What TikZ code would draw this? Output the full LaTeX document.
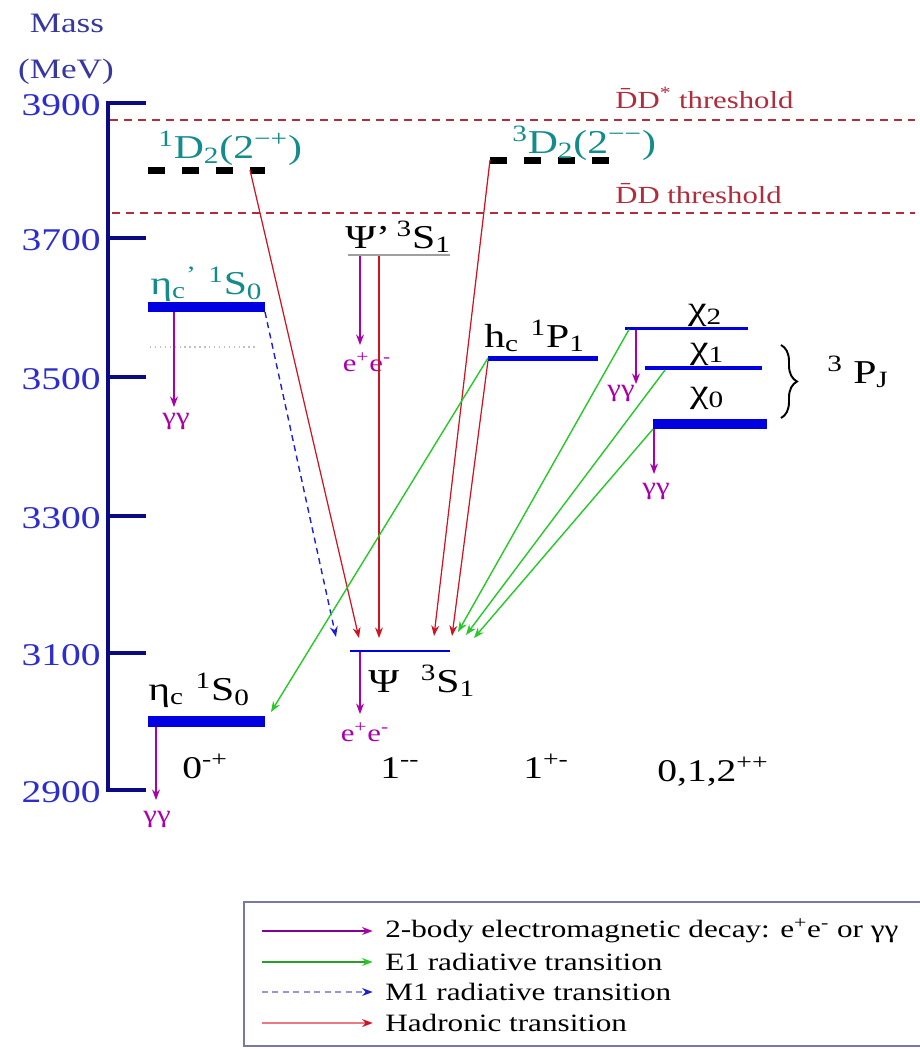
\documentclass[tikz,border=0pt]{standalone}
\usepackage{fontspec}
\setmainfont{Liberation Serif}[FakeStretch=1.25]
\usepackage{tikz}
\usetikzlibrary{arrows.meta, decorations.pathreplacing}
\definecolor{AxisNavy}{RGB}{10,10,130}
\definecolor{TickBlue}{RGB}{45,45,205}
\definecolor{MassBlue}{RGB}{55,55,160}
\definecolor{LevelBlue}{RGB}{0,0,225}
\definecolor{StateTeal}{RGB}{20,140,140}
\definecolor{ThreshRed}{RGB}{175,45,60}
\definecolor{HadRed}{RGB}{205,20,35}
\definecolor{HadPink}{RGB}{235,120,130}
\definecolor{EmMagenta}{RGB}{170,0,170}
\definecolor{EmPurple}{RGB}{130,0,150}
\definecolor{EOneGreen}{RGB}{40,200,40}
\definecolor{EOneDark}{RGB}{40,160,40}
\definecolor{MOneBlue}{RGB}{30,30,210}
\definecolor{MOneGrey}{RGB}{150,150,210}
\tikzset{
  axisline/.style={AxisNavy, line width=2.3pt},
  ticklab/.style={anchor=east, text=TickBlue, inner sep=0pt, font=\fontsize{18}{20}\selectfont},
  masslab/.style={text=MassBlue, inner sep=0pt, font=\fontsize{16}{18}\selectfont},
  bar/.style={fill=LevelBlue, draw=none, inner sep=0pt, outer sep=0pt},
  dlevel/.style={inner sep=0pt, outer sep=0pt, minimum height=0.14cm},
  dashlvl/.style={black, line width=0.14cm, dash pattern=on 0.34cm off 0.34cm},
  thresh/.style={ThreshRed, line width=0.7pt, dash pattern=on 0.16cm off 0.12cm},
  threshlab/.style={anchor=base west, text=ThreshRed, inner sep=0pt, font=\fontsize{14}{16}\selectfont},
  statelab/.style={anchor=base west, inner sep=0pt, font=\fontsize{19}{21}\selectfont},
  jpclab/.style={anchor=base west, inner sep=0pt, font=\fontsize{18}{20}\selectfont},
  decaylab/.style={text=EmMagenta, inner sep=0pt, font=\fontsize{14}{16}\selectfont},
  legtxt/.style={anchor=west, inner sep=0pt, font=\fontsize{14.2}{16}\selectfont},
  emarr/.style={-{Stealth[length=6pt,width=4.5pt]}, EmMagenta, line width=0.7pt},
  eonearr/.style={-{Stealth[length=6pt,width=4.5pt]}, EOneGreen, line width=0.8pt},
  monearr/.style={-{Stealth[length=6pt,width=4.5pt]}, MOneBlue, line width=0.8pt, dash pattern=on 0.12cm off 0.09cm},
  hadarr/.style={-{Stealth[length=6pt,width=4.5pt]}, HadRed, line width=0.7pt},
  legarr/.style={line width=0.8pt, shorten >=7pt},
}

\begin{document}
\begin{tikzpicture}[x=0.02cm, y=-0.02cm]
  \useasboundingbox (0,0) rectangle (920,1049);
  \clip (0,0) rectangle (920,1049);

  \node[masslab] (mass) at (67,23) {Mass};
  \node[masslab] (mev) at (66,72) {(MeV)};
  \draw[axisline] (146,103) -- (108,103) -- (108,790) -- (146,790);
  \foreach \y in {238,377,516,653}
    \draw[axisline] (108,\y) -- (146,\y);
  \foreach \m/\y in {3900/103,3700/238,3500/377,3300/516,3100/653,2900/790}
    \node[ticklab] (tick\m) at (101,\y+2) {\m};

  \draw[thresh] (110,120) -- (915,120);
  \draw[thresh] (112,213) -- (915,213);
  \node[threshlab] (thDDs) at (615,108) {\={D}D\textsuperscript{*} threshold};
  \node[threshlab] (thDD) at (615,203) {\={D}D threshold};

  \node[dlevel, minimum width=2.34cm] (dsing) at (206.5,170) {};
  \node[dlevel, minimum width=2.44cm] (dtrip) at (551,160) {};
  \draw[dashlvl] (dsing.west) -- (dsing.east);
  \draw[dashlvl] (dtrip.west) -- (dtrip.east);
  \node[bar, minimum width=2.34cm, minimum height=0.2cm] (etacp) at (206.5,307) {};
  \node[bar, fill=gray!75, minimum width=2.04cm, minimum height=0.035cm] (psip) at (399,255) {};
  \node[bar, minimum width=2.2cm, minimum height=0.1cm] (hc) at (543,358) {};
  \node[bar, minimum width=2.46cm, minimum height=0.06cm] (chi2) at (686.5,328) {};
  \node[bar, minimum width=2.34cm, minimum height=0.08cm] (chi1) at (703.5,368) {};
  \node[bar, minimum width=2.28cm, minimum height=0.2cm] (chi0) at (710,424) {};
  \node[bar, minimum width=2.0cm, minimum height=0.04cm] (jpsi) at (400,651) {};
  \node[bar, minimum width=2.34cm, minimum height=0.22cm] (etac) at (206.5,721) {};
  \draw[gray!50, dotted, thick] (150,347) -- (257,347);

  \node[statelab, text=StateTeal] (dsinglab) at (158,158) {\textsuperscript{1}D\textsubscript{2}(2\textsuperscript{−+})};
  \node[statelab, text=StateTeal] (dtriplab) at (512,153) {\textsuperscript{3}D\textsubscript{2}(2\textsuperscript{−−})};
  \node[statelab, text=StateTeal] (etacplab) at (150,294) {η\textsubscript{c}\textsuperscript{’}\hspace{0.35em}\textsuperscript{1}S\textsubscript{0}};
  \node[statelab] (psiplab) at (345,248) {Ψ’\hspace{0.2em}\textsuperscript{3}S\textsubscript{1}};
  \node[statelab] (hclab) at (484,347) {h\textsubscript{c}\hspace{0.35em}\textsuperscript{1}P\textsubscript{1}};
  \node[statelab, anchor=base] (chi2lab) at (705,319) {χ\textsubscript{2}};
  \node[statelab, anchor=base] (chi1lab) at (707,358) {χ\textsubscript{1}};
  \node[statelab, anchor=base] (chi0lab) at (707,402) {χ\textsubscript{0}};
  \node[statelab] (pjlab) at (827,383) {\textsuperscript{3} P\textsubscript{J}};
  \draw[decorate, decoration={brace, amplitude=0.32cm}, line width=1.1pt] (781,345) -- (781,418);
  \node[statelab] (jpsilab) at (368,692) {Ψ\hspace{0.65em}\textsuperscript{3}S\textsubscript{1}};
  \node[statelab] (etaclab) at (148,700) {η\textsubscript{c}\hspace{0.35em}\textsuperscript{1}S\textsubscript{0}};

  \node[jpclab] (jpc0) at (182,778) {0\textsuperscript{-+}};
  \node[jpclab] (jpc1) at (380,778) {1\textsuperscript{{-}{-}}};
  \node[jpclab] (jpc2) at (523,778) {1\textsuperscript{+-}};
  \node[jpclab] (jpc3) at (657,781) {0,1,2\textsuperscript{++}};

  \coordinate (etacpgg) at (174,407);
  \coordinate (psipee) at (360,345);
  \coordinate (chi2gg) at (636,384);
  \coordinate (chi0gg) at (654,474);
  \coordinate (jpsiee) at (360,714);
  \coordinate (etacgg) at (156,800);
  \draw[emarr] (etacpgg |- etacp.south) -- (etacpgg);
  \draw[emarr] (psipee |- psip.south) -- (psipee);
  \draw[emarr] (chi2gg |- chi2.south) -- (chi2gg);
  \draw[emarr] (chi0gg |- chi0.south) -- (chi0gg);
  \draw[emarr] (jpsiee |- jpsi.south) -- (jpsiee);
  \draw[emarr] (etacgg |- etac.south) -- (etacgg);
  \node[decaylab] (etacpgglab) at (176,421) {γγ};
  \node[decaylab] (psipeelab) at (367,362) {e\textsuperscript{+}e\textsuperscript{-}};
  \node[decaylab] (chi2gglab) at (621,393) {γγ};
  \node[decaylab] (chi0gglab) at (656,491) {γγ};
  \node[decaylab] (jpsieelab) at (365,732) {e\textsuperscript{+}e\textsuperscript{-}};
  \node[decaylab] (etacgglab) at (157,819) {γγ};

  \coordinate (mOneEnd) at (336,637);
  \coordinate (hadA) at (359,638);
  \coordinate (hadB) at (379,638);
  \coordinate (hadC) at (434,636);
  \coordinate (hadD) at (452,636);
  \coordinate (eOneA) at (458,632);
  \coordinate (eOneB) at (466,635);
  \coordinate (eOneC) at (474,638);
  \coordinate (eOneEtac) at (271,712);
  \draw[monearr] (etacp.south east) -- (mOneEnd);
  \draw[hadarr] ([xshift=-0.3cm]dsing.east) -- (hadA);
  \draw[hadarr] (hadB |- psip.south) -- (hadB);
  \draw[hadarr] (dtrip.west) -- (hadC);
  \draw[hadarr] (hc.south west) -- (hadD);
  \draw[eonearr] (hc.west) -- (eOneEtac);
  \draw[eonearr] ([xshift=0.08cm]chi2.south west) -- (eOneA);
  \draw[eonearr] ([xshift=0.4cm]chi1.south west) -- (eOneB);
  \draw[eonearr] (chi0.south west) -- (eOneC);

  \draw[MOneGrey!80!black, line width=0.6pt] (244,902) rectangle (930,1046);
  \node[legtxt] (legEm) at (385,931) {2-body electromagnetic decay: e\textsuperscript{+}e\textsuperscript{-} or γγ};
  \node[legtxt] (legEOne) at (385,962) {E1 radiative transition};
  \node[legtxt] (legMOne) at (385,992) {M1 radiative transition};
  \node[legtxt] (legHad) at (385,1023) {Hadronic transition};
  \coordinate (legEmS) at (262,931);
  \coordinate (legEOneS) at (262,962);
  \coordinate (legMOneS) at (262,992);
  \coordinate (legHadS) at (262,1023);
  \draw[legarr, -{Stealth[length=6pt,width=4.5pt,color=EmMagenta]}, EmPurple] (legEmS) -- (legEm.west);
  \draw[legarr, -{Stealth[length=6pt,width=4.5pt,color=EOneGreen]}, EOneDark] (legEOneS) -- (legEOne.west);
  \draw[legarr, -{Stealth[length=6pt,width=4.5pt,color=MOneBlue]}, MOneGrey, dash pattern=on 0.12cm off 0.09cm] (legMOneS) -- (legMOne.west);
  \draw[legarr, -{Stealth[length=6pt,width=4.5pt,color=HadRed]}, HadPink] (legHadS) -- (legHad.west);
\end{tikzpicture}
\end{document}
